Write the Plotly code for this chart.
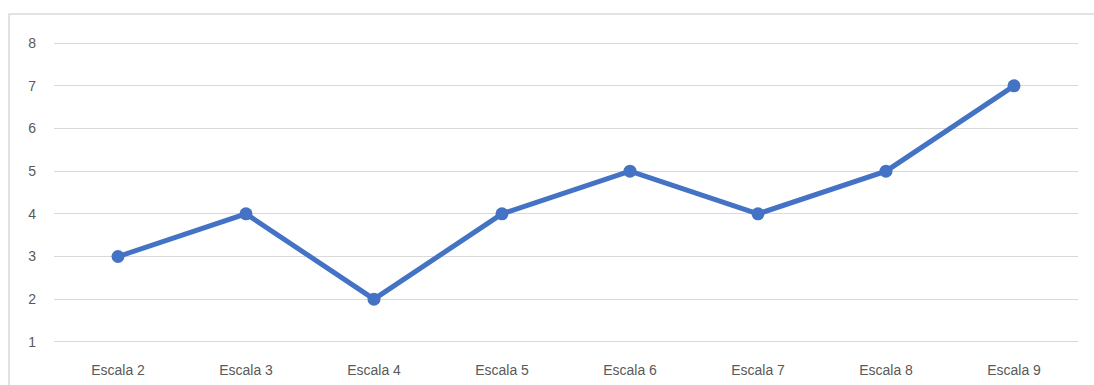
import plotly.graph_objects as go

categories = ["Escala 2", "Escala 3", "Escala 4", "Escala 5",
              "Escala 6", "Escala 7", "Escala 8", "Escala 9"]
values = [3, 4, 2, 4, 5, 4, 5, 7]
y_ticks = [1, 2, 3, 4, 5, 6, 7, 8]

W, H = 1094, 385
ML, MR, MT, MB = 54, 16, 41, 41
plot_w = W - ML - MR
plot_h = H - MT - MB

fig = go.Figure()
fig.add_trace(go.Scatter(
    x=categories, y=values, mode="lines+markers",
    line=dict(color="#4472C4", width=5),
    marker=dict(color="#4472C4", size=13),
    hoverinfo="x+y", showlegend=False,
))

# Chart-area frame (left and top edges visible, rest runs off the canvas)
fig.add_shape(
    type="rect", xref="paper", yref="paper",
    x0=(9 - ML) / plot_w, x1=(W + 10 - ML) / plot_w,
    y0=-(MB + 10) / plot_h, y1=1 + (MT - 14) / plot_h,
    line=dict(color="#D9D9D9", width=1.5), layer="below",
)

fig.update_layout(
    width=W, height=H,
    margin=dict(l=ML, r=MR, t=MT, b=MB),
    paper_bgcolor="white", plot_bgcolor="white",
    font=dict(family="Liberation Sans, Arial, sans-serif", size=14, color="#595959"),
    xaxis=dict(
        type="category", range=[-0.5, len(categories) - 0.5],
        showgrid=False, zeroline=False, showline=False,
        ticks="", ticklabelstandoff=16, automargin=False,
        tickfont=dict(size=14, color="#595959"),
    ),
    yaxis=dict(
        range=[0.95, 8.05], tickvals=y_ticks,
        showgrid=True, gridcolor="#D9D9D9", gridwidth=1.3,
        zeroline=False, showline=False, ticks="",
        ticklabelstandoff=17, automargin=False,
        tickfont=dict(size=14, color="#595959"),
    ),
)

fig.write_html("out.html")
